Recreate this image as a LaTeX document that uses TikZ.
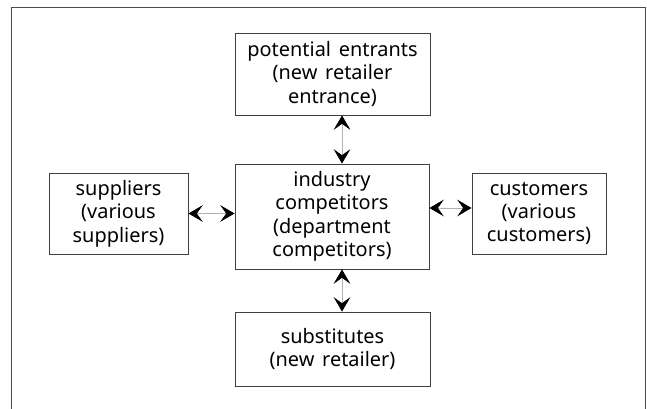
\documentclass[tikz,border=0pt]{standalone}
\usepackage{fontspec}
\setmainfont[WordSpace=1.5]{Noto Sans}
\usetikzlibrary{arrows.meta}
\begin{document}
\begin{tikzpicture}[
  force/.style={draw=black!75, line width=0.8pt, align=center, inner sep=0pt,
    font=\fontsize{17}{20}\selectfont},
  link/.style={draw=black!30, line width=0.5pt,
    >={Stealth[black,length=4.3mm,width=5mm,inset=1.8mm]}, <->}
]
\useasboundingbox (0,0) rectangle (19.41,12.24);

%Frame
\draw[black!70, line width=0.8pt] (0.33,-0.5) -- (0.33,12.03) -- (19.35,12.03) -- (19.35,-0.5);

%Forces
\node[force, minimum width=5.85cm, minimum height=2.46cm] (pe) at (9.975,10.02)
  {potential entrants\\(new retailer\\entrance)};
\node[force, minimum width=5.82cm, minimum height=3.15cm] (ic) at (9.96,5.745)
  {industry\\competitors\\(department\\competitors)};
\node[force, minimum width=4.17cm, minimum height=2.43cm] (sup) at (3.555,5.835)
  {suppliers\\(various\\suppliers)};
\node[force, minimum width=4.02cm, minimum height=2.43cm] (cus) at (16.17,5.835)
  {customers\\(various\\customers)};
\node[force, minimum width=5.85cm, minimum height=2.22cm] (sub) at (9.975,1.77)
  {substitutes\\(new retailer)};

%Links
\path (10.26,0) coordinate (v);
\draw[link] (pe.south -| v) -- (ic.north -| v);
\draw[link] (ic.south -| v) -- (sub.north -| v);
\draw[link] (sup.east) -- (sup.east -| ic.west);
\draw[link] ([yshift=0.255cm]ic.east) -- ([yshift=0.255cm]ic.east -| cus.west);

\end{tikzpicture}
\end{document}
